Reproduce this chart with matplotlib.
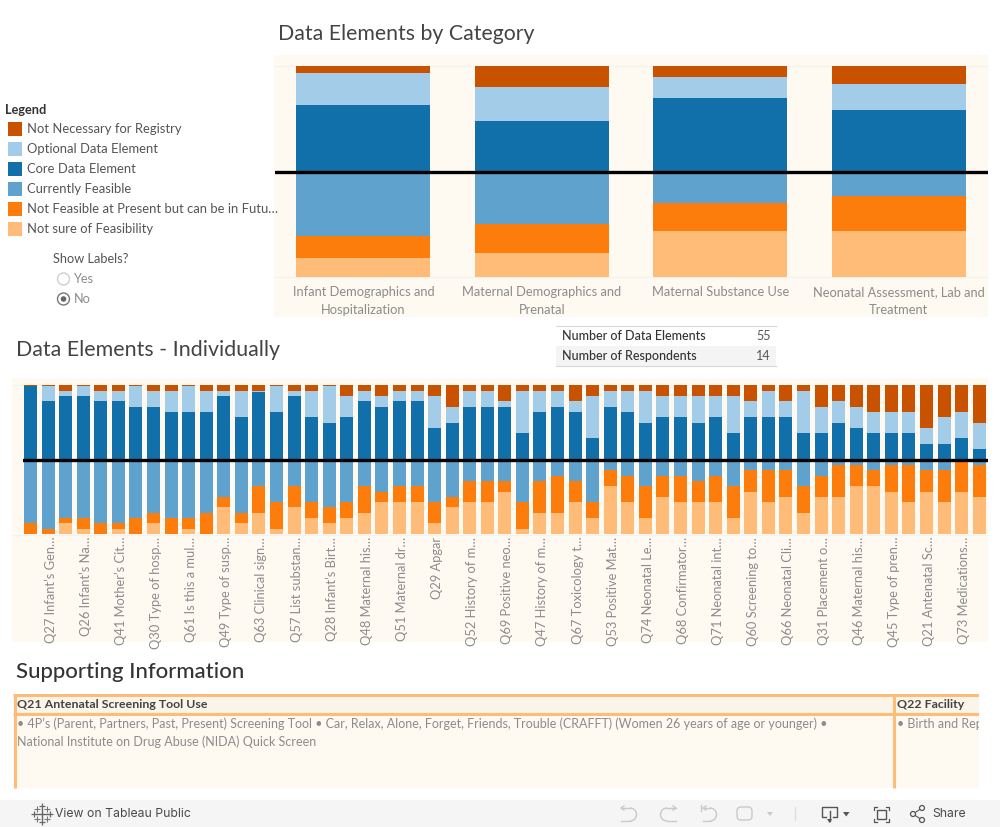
#!/usr/bin/python3
import matplotlib
matplotlib.use('Agg')
import matplotlib.pyplot as plt
from matplotlib.transforms import ScaledTranslation
import numpy as np
from matplotlib.patches import Rectangle, Circle, Arc, FancyBboxPatch

W, H = 1000, 827

legend_names = ['Not Necessary for Registry', 'Optional Data Element', 'Core Data Element',
                'Currently Feasible', 'Not Feasible at Present but can be in Futu\u2026',
                'Not sure of Feasibility']
colors = ['#c85200', '#a3cce9', '#1170aa', '#5fa2ce', '#fc7d0b', '#ffbc79']

# top chart, percent of each side of the line
cat_labels = ['Infant Demographics and\nHospitalization', 'Maternal Demographics and\nPrenatal',
              'Maternal Substance Use', 'Neonatal Assessment, Lab and\nTreatment']
cat_not_necessary = [6.6, 20.0, 10.4, 17.0]
cat_optional = [30.4, 32.2, 20.0, 24.7]
cat_core = [63.0, 47.8, 69.6, 58.3]
cat_feasible = [61.6, 49.3, 29.4, 22.8]
cat_not_feasible = [20.4, 28.0, 27.0, 33.6]
cat_not_sure = [18.0, 22.7, 43.6, 43.6]

# lower chart, one value per data element
core = [98.7, 78.8, 85.4, 85.4, 78.8, 78.8, 70.8, 70.8, 64.2, 64.2, 64.2, 85.4, 57.5, 90.7,
        64.2, 85.4, 57.5, 49.6, 57.5, 78.8, 70.8, 78.8, 78.8, 42.9, 49.6, 70.8, 70.8, 70.8,
        36.3, 64.2, 70.8, 64.2, 29.6, 70.8, 64.2, 49.6, 57.5, 57.5, 49.6, 57.5, 36.3, 57.5,
        57.5, 57.5, 36.3, 36.3, 49.6, 42.9, 36.3, 36.3, 36.3, 21.7, 21.7, 29.6, 15.0]
optional = [0.0, 19.9, 6.6, 13.3, 13.2, 13.2, 27.9, 21.2, 27.8, 34.5, 27.8, 6.6, 34.5, 1.3,
            34.5, 6.6, 34.5, 49.1, 27.9, 13.2, 14.6, 13.2, 13.2, 42.5, 21.2, 21.2, 21.2, 8.0,
            55.7, 27.8, 21.2, 14.6, 55.8, 21.2, 27.8, 42.4, 27.9, 27.9, 35.8, 27.9, 49.1, 21.3,
            34.5, 21.3, 55.7, 34.5, 29.2, 27.9, 27.9, 27.9, 27.9, 21.2, 35.8, 34.6, 34.6]
not_necessary = [1.3, 1.3, 8.0, 1.3, 8.0, 8.0, 1.3, 8.0, 8.0, 1.3, 8.0, 8.0, 8.0, 8.0,
                 1.3, 8.0, 8.0, 1.3, 14.6, 8.0, 14.6, 8.0, 8.0, 14.6, 29.2, 8.0, 8.0, 21.2,
                 8.0, 8.0, 8.0, 21.2, 14.6, 8.0, 8.0, 8.0, 14.6, 14.6, 14.6, 14.6, 14.6, 21.2,
                 8.0, 21.2, 8.0, 29.2, 21.2, 29.2, 35.8, 35.8, 35.8, 57.1, 42.5, 35.8, 50.4]
feasible = [85.5, 93.2, 77.8, 77.8, 85.5, 85.5, 77.8, 71.5, 77.8, 77.8, 71.5, 49.8, 71.5, 34.4,
            56.1, 34.4, 56.1, 63.3, 56.1, 34.4, 42.5, 34.4, 34.4, 56.1, 49.8, 28.1, 28.1, 28.1,
            56.1, 28.1, 20.8, 28.1, 56.1, 12.7, 20.8, 34.4, 20.8, 20.8, 28.1, 20.8, 34.4, 12.7,
            12.7, 12.7, 34.4, 20.8, 6.3, 6.3, 12.7, 6.3, 6.3, 12.7, 12.7, 0.0, 6.3]
not_feasible = [14.5, 6.8, 7.3, 15.4, 14.5, 7.7, 22.2, 13.6, 22.2, 15.4, 28.5, 13.5, 13.6, 37.1,
                37.1, 28.9, 22.2, 21.8, 22.2, 37.1, 13.6, 21.7, 21.7, 29.0, 13.5, 28.0, 28.0, 14.4,
                37.1, 43.4, 50.7, 28.0, 22.2, 21.7, 35.3, 43.9, 29.0, 35.3, 28.0, 35.3, 43.9, 29.8,
                43.4, 37.1, 37.1, 29.0, 43.5, 28.1, 21.7, 36.2, 49.8, 29.8, 43.4, 42.5, 43.5]
not_sure = [0.0, 0.0, 14.9, 6.8, 0.0, 6.8, 0.0, 14.9, 0.0, 6.8, 0.0, 36.7, 14.9, 28.5,
            6.8, 36.7, 21.7, 14.9, 21.7, 28.5, 43.9, 43.9, 43.9, 14.9, 36.7, 43.9, 43.9, 57.5,
            6.8, 28.5, 28.5, 43.9, 21.7, 65.6, 43.9, 21.7, 50.2, 43.9, 43.9, 43.9, 21.7, 57.5,
            43.9, 50.2, 28.5, 50.2, 50.2, 65.6, 65.6, 57.5, 43.9, 57.5, 43.9, 57.5, 50.2]
# every second bar carries a label
element_labels = ["Q27 Infant\u2019s Gen\u2026", "Q26 Infant\u2019s Na\u2026", "Q41 Mother\u2019s Cit\u2026",
                  "Q30 Type of hosp\u2026", "Q61 Is this a mul\u2026", "Q49 Type of susp\u2026",
                  "Q63 Clinical sign\u2026", "Q57 List substan\u2026", "Q28 Infant\u2019s Birt\u2026",
                  "Q48 Maternal his\u2026", "Q51 Maternal dr\u2026", "Q29 Apgar",
                  "Q52 History of m\u2026", "Q69 Positive neo\u2026", "Q47 History of m\u2026",
                  "Q67 Toxicology t\u2026", "Q53 Positive Mat\u2026", "Q74 Neonatal Le\u2026",
                  "Q68 Confirmator\u2026", "Q71 Neonatal int\u2026", "Q60 Screening to\u2026",
                  "Q66 Neonatal Cli\u2026", "Q31 Placement o\u2026", "Q46 Maternal his\u2026",
                  "Q45 Type of pren\u2026", "Q21 Antenatal Sc\u2026", "Q73 Medications\u2026"]

plt.rcParams['font.family'] = ['Lato', 'DejaVu Sans']
PANEL = '#fef9f1'
TITLE = '#444444'
GREY = '#8c8c8c'
DARK = '#555555'
ICON_OFF = '#c9c9c9'
ICON_ON = '#555555'
EDGE = '#f4f2ee'
# lower half of the individual chart sits a little shorter than the upper half
DOWN_SCALE = 0.98


def px_axes(fig, left, top, right, bottom, **kw):
    # axes placed by pixel box, y measured from the top of the picture
    return fig.add_axes([left / W, 1 - bottom / H, (right - left) / W, (bottom - top) / H], **kw)


def stacked(ax, x, width, up, down, down_scale=1.0):
    # up and down are lists of (values, colour), drawn outward from the zero line
    base = np.zeros(len(x))
    for vals, col in up:
        ax.bar(x, vals, width, bottom=base, color=col, linewidth=0)
        base = base + np.array(vals)
    base = np.zeros(len(x))
    for vals, col in down:
        v = np.array(vals) * down_scale
        ax.bar(x, -v, width, bottom=base, color=col, linewidth=0)
        base = base - v


def undo_icon(ax, cx, left, sign, col):
    # open D shape used by the undo and redo buttons
    ax.plot([left, cx], [808, 808], color=col, lw=1)
    ax.plot([left, cx], [821, 821], color=col, lw=1)
    if sign > 0:
        ax.add_patch(Arc((cx, 814.5), 13, 13, theta1=-90, theta2=90, color=col, lw=1))
    else:
        ax.add_patch(Arc((cx, 814.5), 13, 13, theta1=90, theta2=270, color=col, lw=1))
    ax.plot([left + sign * 3, left, left + sign * 3], [806, 808, 810], color=col, lw=1)


fig = plt.figure(figsize=(W / 100, H / 100), dpi=100)
bg = fig.add_axes([0, 0, 1, 1], zorder=0)
bg.set_xlim(0, W)
bg.set_ylim(H, 0)
bg.axis('off')

# panels
bg.add_patch(Rectangle((274, 55), 714, 262, color=PANEL, lw=0))
bg.add_patch(Rectangle((12, 378), 976, 264, color=PANEL, lw=0))
for y in [66, 277]:
    bg.plot([274, 988], [y, y], color=EDGE, lw=0.8)
for y in [385, 534.5]:
    bg.plot([12, 988], [y, y], color=EDGE, lw=0.8)

# top chart
ax1 = px_axes(fig, 275, 66, 988, 277, zorder=1)
x1 = np.arange(len(cat_labels))
stacked(ax1, x1, 0.75,
        [(cat_core, colors[2]), (cat_optional, colors[1]), (cat_not_necessary, colors[0])],
        [(cat_feasible, colors[3]), (cat_not_feasible, colors[4]), (cat_not_sure, colors[5])])
ax1.set_xlim(-0.495, 3.5)
ax1.set_ylim(-100, 100)
ax1.axhline(0, color='black', lw=2.4)
ax1.set_yticks([])
ax1.set_xticks(x1)
ax1.set_xticklabels(cat_labels, color=GREY, fontsize=9.3, linespacing=1.6)
ax1.tick_params(axis='x', length=0, pad=6.7)
ax1.patch.set_alpha(0)
for s in ax1.spines.values():
    s.set_visible(False)

# lower chart
ax2 = px_axes(fig, 23, 385, 988, 534, zorder=1)
x2 = np.arange(len(core))
stacked(ax2, x2, 0.74,
        [(core, colors[2]), (optional, colors[1]), (not_necessary, colors[0])],
        [(feasible, colors[3]), (not_feasible, colors[4]), (not_sure, colors[5])],
        down_scale=DOWN_SCALE)
ax2.set_xlim(-0.427, 54.5)
ax2.set_ylim(-100 * DOWN_SCALE, 100)
ax2.axhline(0, color='black', lw=2.4)
ax2.set_yticks([])
ax2.set_xticks(x2[1::2])
ax2.set_xticklabels(element_labels, rotation=90, color=GREY, fontsize=9.3, ha='center', va='top')
ax2.tick_params(axis='x', length=0, pad=2)
shift = ScaledTranslation(2.5 / 100, 0, fig.dpi_scale_trans)
for lab in ax2.get_xticklabels():
    lab.set_transform(lab.get_transform() + shift)
ax2.patch.set_alpha(0)
for s in ax2.spines.values():
    s.set_visible(False)

# titles
bg.text(278, 34.5, 'Data Elements by Category', fontsize=15.3, color=TITLE, va='center')
bg.text(16, 350, 'Data Elements - Individually', fontsize=15.4, color=TITLE, va='center')
bg.text(16, 671.5, 'Supporting Information', fontsize=15.9, color='#333333', va='center', fontweight='medium')

# legend
bg.text(5, 109.5, 'Legend', fontsize=9.2, color='#333333', va='center', fontweight='bold')
for i, name in enumerate(legend_names):
    y = 129 + i * 20
    bg.add_patch(Rectangle((8, y - 7), 14, 14, color=colors[i], lw=0))
    bg.text(27, y, name, fontsize=9.4, color=DARK, va='center')

bg.text(53, 259, 'Show Labels?', fontsize=9.2, color=DARK, va='center')
bg.text(74, 279, 'Yes', fontsize=9.2, color=GREY, va='center')
bg.text(74, 299, 'No', fontsize=9.2, color=GREY, va='center')
bg.add_patch(Circle((63.5, 279), 6, fc='white', ec='#cfcfcf', lw=1))
bg.add_patch(Circle((63.5, 299), 6, fc='white', ec='#777777', lw=1))
bg.add_patch(Circle((63.5, 299), 2.8, color='#666666', lw=0))

# count table
bg.add_patch(Rectangle((556, 346), 220, 20, color='#f4f4f4', lw=0))
for y in [325.5, 366]:
    bg.plot([556, 776], [y, y], color='#d8d8d8', lw=0.8)
bg.text(562, 336, 'Number of Data Elements', fontsize=9, color='#333333', va='center', fontweight='medium')
bg.text(562, 356, 'Number of Respondents', fontsize=9, color='#333333', va='center', fontweight='medium')
bg.text(771, 336, '55', fontsize=9, color=DARK, va='center', ha='right')
bg.text(771, 356, '14', fontsize=9, color=DARK, va='center', ha='right')

# supporting table
ORANGE = '#ffbc79'
bg.add_patch(Rectangle((14, 695), 965, 93, color=PANEL, lw=0))
bg.add_patch(Rectangle((14, 695), 965, 18, color='#fbf5e9', lw=0))
bg.plot([13, 979], [695, 695], color=ORANGE, lw=2.2, solid_capstyle='butt')
bg.plot([13, 979], [713.5, 713.5], color=ORANGE, lw=2.2, solid_capstyle='butt')
bg.plot([14.5, 14.5], [694, 788], color=ORANGE, lw=2.2, solid_capstyle='butt')
bg.plot([893.5, 893.5], [694, 788], color=ORANGE, lw=2.2, solid_capstyle='butt')
bg.text(17, 704.5, 'Q21 Antenatal Screening Tool Use', fontsize=8.9, color='#444444', va='center', fontweight='bold')
bg.text(897, 704.5, 'Q22 Facility', fontsize=8.9, color='#444444', va='center', fontweight='bold')
bg.text(17, 724, '\u2022 4P\u2019s (Parent, Partners, Past, Present) Screening Tool \u2022 Car, Relax, Alone, Forget, '
        'Friends, Trouble (CRAFFT) (Women 26 years of age or younger) \u2022', fontsize=9.03, color=GREY, va='center')
bg.text(17, 742, 'National Institute on Drug Abuse (NIDA) Quick Screen', fontsize=9.03, color=GREY, va='center')
bg.text(897, 724, '\u2022 Birth and Rep', fontsize=9.03, color=GREY, va='center')
bg.add_patch(Rectangle((979, 690), 21, 105, color='white', lw=0, zorder=3))

# toolbar
bg.add_patch(Rectangle((0, 800), W, 27, color='#f5f5f5', lw=0))
bg.text(55, 814, 'View on Tableau Public', fontsize=8.8, color='#4a4a4a', va='center', family='Inter')
bg.text(932, 814, 'Share', fontsize=8.8, color='#4a4a4a', va='center', family='Inter')
# logo, made of small plus signs
bg.plot([42], [814], marker='+', ms=9, mew=1, color='#666666', ls='')
bg.plot([42, 42, 34, 50], [806, 822, 814, 814], marker='+', ms=5, mew=0.9, color='#666666', ls='')
bg.plot([37, 47, 37, 47], [809, 809, 819, 819], marker='+', ms=4, mew=0.8, color='#777777', ls='')

undo_icon(bg, 630, 621, 1, ICON_OFF)
undo_icon(bg, 667, 676, -1, ICON_OFF)
undo_icon(bg, 710, 703, 1, ICON_OFF)
bg.plot([701, 701], [805, 811], color=ICON_OFF, lw=1)
bg.add_patch(FancyBboxPatch((740, 810), 9, 7, boxstyle='round,pad=3,rounding_size=4', fc='none', ec=ICON_OFF, lw=1))
bg.fill([767, 773, 770], [812, 812, 816], color=ICON_OFF, lw=0)
bg.plot([795, 795], [807, 820], color='#dddddd', lw=0.9)

bg.plot([826, 822, 822, 837, 837, 833], [817, 817, 807, 807, 817, 817], color=ICON_ON, lw=1)
bg.plot([829.5, 829.5], [811, 821], color=ICON_ON, lw=1)
bg.fill([827, 832, 829.5], [819, 819, 823], color=ICON_ON, lw=0)
bg.fill([843, 849.5, 846.2], [812, 812, 816.5], color=ICON_ON, lw=0)

bg.add_patch(Rectangle((877, 809.5), 9, 9.5, fc='none', ec=ICON_ON, lw=1))
bg.plot([873.5, 873.5, 877], [810, 806.5, 806.5], color=ICON_ON, lw=0.9)
bg.plot([885.5, 889, 889], [806.5, 806.5, 810], color=ICON_ON, lw=0.9)
bg.plot([873.5, 873.5, 877], [818.5, 822, 822], color=ICON_ON, lw=0.9)
bg.plot([885.5, 889, 889], [822, 822, 818.5], color=ICON_ON, lw=0.9)

bg.plot([922, 913, 922], [808, 814, 820], color=ICON_ON, lw=0.8)
for cx, cy in [(913, 814), (922, 808), (922, 820)]:
    bg.add_patch(Circle((cx, cy), 2.5, fc='#f5f5f5', ec=ICON_ON, lw=0.9, zorder=3))

fig.savefig('out.png', dpi=100)
